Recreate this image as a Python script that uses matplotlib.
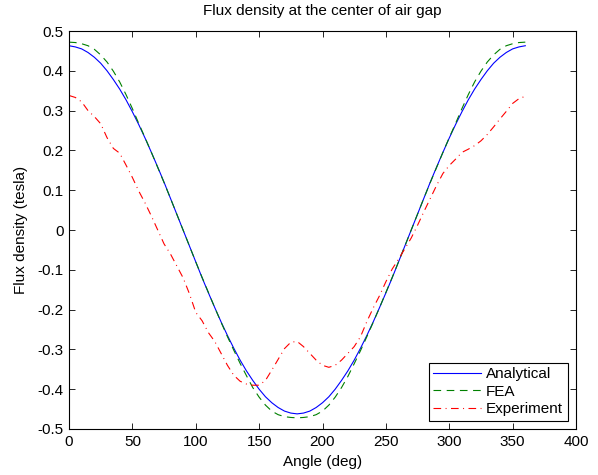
import matplotlib
matplotlib.use("Agg")
import matplotlib.pyplot as plt

plt.rcParams['font.family'] = ['Liberation Sans', 'DejaVu Sans']
plt.rcParams['axes.unicode_minus'] = False
plt.rcParams['lines.scale_dashes'] = False

angles = list(range(0, 361, 5))
analytical = [0.463, 0.460, 0.455, 0.446, 0.434, 0.419, 0.400, 0.378, 0.354, 0.327,
              0.297, 0.265, 0.231, 0.195, 0.158, 0.120, 0.080, 0.040, 0.000,
              -0.040, -0.080, -0.120, -0.158, -0.195, -0.231, -0.265, -0.297, -0.327,
              -0.354, -0.378, -0.400, -0.419, -0.434, -0.446, -0.455, -0.460, -0.462,
              -0.460, -0.455, -0.446, -0.434, -0.419, -0.400, -0.378, -0.354, -0.327,
              -0.297, -0.265, -0.231, -0.195, -0.158, -0.120, -0.080, -0.040, 0.000,
              0.040, 0.080, 0.120, 0.158, 0.195, 0.231, 0.265, 0.297, 0.327,
              0.354, 0.378, 0.400, 0.419, 0.434, 0.446, 0.455, 0.460, 0.463]
fea = [0.472, 0.471, 0.468, 0.463, 0.454, 0.440, 0.422, 0.399, 0.372, 0.340,
       0.305, 0.268, 0.232, 0.195, 0.157, 0.119, 0.080, 0.040, 0.000,
       -0.040, -0.080, -0.119, -0.157, -0.195, -0.232, -0.268, -0.302, -0.335,
       -0.366, -0.396, -0.420, -0.440, -0.455, -0.464, -0.469, -0.471, -0.472,
       -0.471, -0.469, -0.464, -0.455, -0.440, -0.420, -0.396, -0.368, -0.336,
       -0.303, -0.268, -0.232, -0.195, -0.157, -0.119, -0.080, -0.040, 0.000,
       0.040, 0.080, 0.119, 0.157, 0.195, 0.232, 0.268, 0.305, 0.340,
       0.372, 0.399, 0.422, 0.440, 0.454, 0.463, 0.468, 0.471, 0.472]

exp_angles = list(range(0, 361, 5))
experiment = [0.338, 0.333, 0.322, 0.300, 0.285, 0.267, 0.232, 0.205, 0.193, 0.163,
              0.132, 0.098, 0.068, 0.035, 0.000, -0.035, -0.060, -0.090, -0.120, -0.160,
              -0.207, -0.228, -0.258, -0.280, -0.310, -0.340, -0.365, -0.380, -0.387, -0.390,
              -0.390, -0.378, -0.352, -0.325, -0.298, -0.282, -0.280, -0.293, -0.310, -0.327,
              -0.340, -0.345, -0.340, -0.327, -0.310, -0.293, -0.268, -0.230, -0.196, -0.165,
              -0.130, -0.098, -0.073, -0.047, -0.020, 0.012, 0.046, 0.079, 0.112, 0.142,
              0.162, 0.178, 0.195, 0.203, 0.212, 0.224, 0.240, 0.259, 0.279, 0.298,
              0.318, 0.330, 0.336]

xticks = list(range(0, 401, 50))
yticks = [-0.5, -0.4, -0.3, -0.2, -0.1, 0, 0.1, 0.2, 0.3, 0.4, 0.5]
yticklabels = ['-0.5', '-0.4', '-0.3', '-0.2', '-0.1', '0', '0.1', '0.2', '0.3', '0.4', '0.5']

fig = plt.figure(figsize=(5.98, 4.75), dpi=100)
ax = fig.add_axes([69/598, 46/475, 507/598, 398/475])

ax.plot(angles, analytical, color='#0000ff', lw=0.8, label='Analytical')
ax.plot(angles, fea, color='#008000', lw=0.8, linestyle=(0, (5.5, 4.0)), label='FEA')
ax.plot(exp_angles, experiment, color='#ff0000', lw=0.8,
        linestyle=(0, (5.5, 3.2, 0.7, 3.2)), label='Experiment')

ax.set_xlim(0, 400)
ax.set_ylim(-0.5, 0.5)
ax.set_xticks(xticks)
ax.set_yticks(yticks)
ax.set_yticklabels(yticklabels)
ax.tick_params(direction='in', length=4, width=0.6, top=True, right=True,
               labelsize=11, pad=4)
for s in ax.spines.values():
    s.set_linewidth(0.8)

ax.set_title('Flux density at the center of air gap', fontsize=11, pad=11.5)
ax.set_xlabel('Angle (deg)', fontsize=11, labelpad=4.5)
ax.set_ylabel('Flux density (tesla)', fontsize=11, labelpad=7)

leg = ax.legend(loc='lower right', fontsize=11, fancybox=False, framealpha=1,
                edgecolor='black', handlelength=3.1, borderaxespad=0.55,
                labelspacing=0.22, borderpad=0.3, handletextpad=0.35)
leg.get_frame().set_linewidth(0.8)

fig.savefig('out.png', dpi=100)
